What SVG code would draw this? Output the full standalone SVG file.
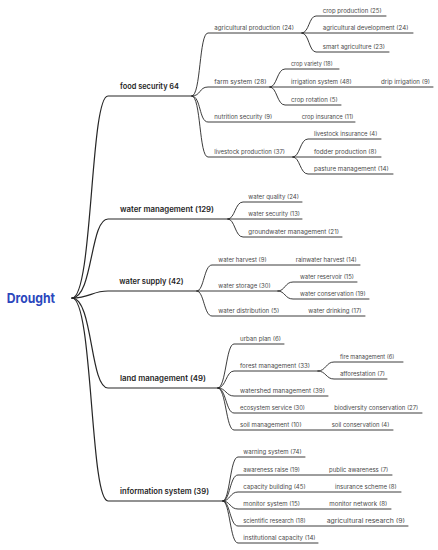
<svg xmlns="http://www.w3.org/2000/svg" width="438" height="550" viewBox="0 0 438 550">
<style>
.c{fill:none;stroke:#262626;stroke-width:0.9;stroke-linecap:round}
.r{stroke-width:1.2}
.t{font-family:Inter,"Open Sans","Liberation Sans",sans-serif;font-size:5.6px;fill:#4a4a4a}
.l1{font-family:Inter,"Open Sans","Liberation Sans",sans-serif;font-size:7.6px;font-weight:600;fill:#1e1e1e}
.root{font-family:Inter,"Open Sans","Liberation Sans",sans-serif;font-size:13.5px;font-weight:700;fill:#2b47bd}
</style>
<rect width="438" height="550" fill="#ffffff"/>
<g id="connectors">
<path class="c r" d="M72,298 C93,298 90,96 108,96 H192"/>
<path class="c r" d="M72,298 C93,298 90,219 108,219 H228"/>
<path class="c r" d="M72,298 C90,298 92,291 108,291 H197"/>
<path class="c r" d="M72,298 C93,298 90,388 108,388 H218"/>
<path class="c r" d="M72,298 C93,298 90,501 108,501 H223"/>
<path class="c" d="M192,96 C201,96 199,33 208,33 H302"/>
<path class="c" d="M192,96 C201,96 199,87 208,87 H270"/>
<path class="c" d="M192,96 C201,96 199,122 208,122 H355"/>
<path class="c" d="M192,96 C201,96 199,157 208,157 H293"/>
<path class="c" d="M302,33 C309,33 309,16 316,16 H386"/>
<path class="c" d="M302,33 H413"/>
<path class="c" d="M302,33 C309,33 309,52 316,52 H389"/>
<path class="c" d="M270,87 C277,87 277,69 285,69 H339"/>
<path class="c" d="M270,87 H433"/>
<path class="c" d="M270,87 C277,87 277,105 285,105 H341"/>
<path class="c" d="M293,157 C300,157 300,139 308,139 H381"/>
<path class="c" d="M293,157 H381"/>
<path class="c" d="M293,157 C300,157 300,174 308,174 H393"/>
<path class="c" d="M228,219 C235,219 235,202 243,202 H302"/>
<path class="c" d="M228,219 H302"/>
<path class="c" d="M228,219 C235,219 235,237 243,237 H342"/>
<path class="c" d="M197,291 C204,291 204,265 212,265 H360"/>
<path class="c" d="M197,291 H278"/>
<path class="c" d="M197,291 C204,291 204,316 212,316 H365"/>
<path class="c" d="M278,291 C285,291 285,282 293,282 H357"/>
<path class="c" d="M278,291 C285,291 285,299 293,299 H369"/>
<path class="c" d="M218,388 C226,388 226,344 234,344 H284"/>
<path class="c" d="M218,388 C226,388 226,371 234,371 H318"/>
<path class="c" d="M218,388 C226,388 226,396 234,396 H328"/>
<path class="c" d="M218,388 C226,388 226,413 234,413 H422"/>
<path class="c" d="M218,388 C226,388 226,430 234,430 H393"/>
<path class="c" d="M318,371 C326,371 326,362 334,362 H403"/>
<path class="c" d="M318,371 C326,371 326,379 334,379 H387"/>
<path class="c" d="M223,501 C230,501 230,457 238,457 H305"/>
<path class="c" d="M223,501 C230,501 230,475 238,475 H392"/>
<path class="c" d="M223,501 C230,501 230,492 238,492 H401"/>
<path class="c" d="M223,501 C230,501 230,509 238,509 H391"/>
<path class="c" d="M223,501 C230,501 230,526 238,526 H408"/>
<path class="c" d="M223,501 C230,501 230,543 238,543 H318"/>
</g>
<g id="drought"><text class="root" x="6.7" y="302.5" textLength="48.3" lengthAdjust="spacingAndGlyphs">Drought</text></g>
<g id="food-security"><text class="l1" x="120" y="88.5" textLength="59" lengthAdjust="spacingAndGlyphs">food security 64</text></g>
<g id="agricultural-production"><text class="t" x="214.3" y="29.5" textLength="79.7" lengthAdjust="spacingAndGlyphs">agricultural production (24)</text></g>
<g id="crop-production"><text class="t" x="322.7" y="12.5" textLength="59" lengthAdjust="spacingAndGlyphs">crop production (25)</text></g>
<g id="agricultural-development"><text class="t" x="322.7" y="29.5" textLength="85.7" lengthAdjust="spacingAndGlyphs">agricultural development (24)</text></g>
<g id="smart-agriculture"><text class="t" x="322.7" y="48.5" textLength="62.3" lengthAdjust="spacingAndGlyphs">smart agriculture (23)</text></g>
<g id="farm-system"><text class="t" x="214.3" y="83.5" textLength="52.3" lengthAdjust="spacingAndGlyphs">farm system (28)</text></g>
<g id="crop-variety"><text class="t" x="291" y="65.5" textLength="41.7" lengthAdjust="spacingAndGlyphs">crop variety (18)</text></g>
<g id="irrigation-system"><text class="t" x="291" y="83.5" textLength="60.7" lengthAdjust="spacingAndGlyphs">irrigation system (48)</text></g>
<g id="drip-irrigation"><text class="t" x="381" y="83.5" textLength="49" lengthAdjust="spacingAndGlyphs">drip irrigation (9)</text></g>
<g id="crop-rotation"><text class="t" x="291" y="101.5" textLength="46.7" lengthAdjust="spacingAndGlyphs">crop rotation (5)</text></g>
<g id="nutrition-security"><text class="t" x="214.3" y="118.5" textLength="58" lengthAdjust="spacingAndGlyphs">nutrition security (9)</text></g>
<g id="crop-insurance"><text class="t" x="301.7" y="118.5" textLength="51.7" lengthAdjust="spacingAndGlyphs">crop insurance (11)</text></g>
<g id="livestock-production"><text class="t" x="214.3" y="153.5" textLength="70.7" lengthAdjust="spacingAndGlyphs">livestock production (37)</text></g>
<g id="livestock-insurance"><text class="t" x="314" y="135.5" textLength="63.3" lengthAdjust="spacingAndGlyphs">livestock insurance (4)</text></g>
<g id="fodder-production"><text class="t" x="314" y="153.5" textLength="62.7" lengthAdjust="spacingAndGlyphs">fodder production (8)</text></g>
<g id="pasture-management"><text class="t" x="314" y="170.5" textLength="74.7" lengthAdjust="spacingAndGlyphs">pasture management (14)</text></g>
<g id="water-management"><text class="l1" x="120" y="211.5" textLength="94" lengthAdjust="spacingAndGlyphs">water management (129)</text></g>
<g id="water-quality"><text class="t" x="248.3" y="198.5" textLength="50.7" lengthAdjust="spacingAndGlyphs">water quality (24)</text></g>
<g id="water-security"><text class="t" x="248.3" y="215.5" textLength="51.7" lengthAdjust="spacingAndGlyphs">water security (13)</text></g>
<g id="groundwater-management"><text class="t" x="248.3" y="233.5" textLength="90.7" lengthAdjust="spacingAndGlyphs">groundwater management (21)</text></g>
<g id="water-supply"><text class="l1" x="119.3" y="283.5" textLength="64.3" lengthAdjust="spacingAndGlyphs">water supply (42)</text></g>
<g id="water-harvest"><text class="t" x="218.3" y="261.5" textLength="48.3" lengthAdjust="spacingAndGlyphs">water harvest (9)</text></g>
<g id="rainwater-harvest"><text class="t" x="295.7" y="261.5" textLength="61" lengthAdjust="spacingAndGlyphs">rainwater harvest (14)</text></g>
<g id="water-storage"><text class="t" x="218.3" y="287.5" textLength="52.3" lengthAdjust="spacingAndGlyphs">water storage (30)</text></g>
<g id="water-reservoir"><text class="t" x="300" y="278.5" textLength="54" lengthAdjust="spacingAndGlyphs">water reservoir (15)</text></g>
<g id="water-conservation"><text class="t" x="300" y="295.5" textLength="65.7" lengthAdjust="spacingAndGlyphs">water conservation (19)</text></g>
<g id="water-distribution"><text class="t" x="218.3" y="312.5" textLength="61" lengthAdjust="spacingAndGlyphs">water distribution (5)</text></g>
<g id="water-drinking"><text class="t" x="308.3" y="312.5" textLength="53.3" lengthAdjust="spacingAndGlyphs">water drinking (17)</text></g>
<g id="land-management"><text class="l1" x="120" y="380.5" textLength="86" lengthAdjust="spacingAndGlyphs">land management (49)</text></g>
<g id="urban-plan"><text class="t" x="240" y="340.5" textLength="41" lengthAdjust="spacingAndGlyphs">urban plan (6)</text></g>
<g id="forest-management"><text class="t" x="240" y="367.5" textLength="70" lengthAdjust="spacingAndGlyphs">forest management (33)</text></g>
<g id="fire-management"><text class="t" x="340" y="358.5" textLength="54.3" lengthAdjust="spacingAndGlyphs">fire management (6)</text></g>
<g id="afforestation"><text class="t" x="340" y="375.5" textLength="45" lengthAdjust="spacingAndGlyphs">afforestation (7)</text></g>
<g id="watershed-management"><text class="t" x="240" y="392.5" textLength="85" lengthAdjust="spacingAndGlyphs">watershed management (39)</text></g>
<g id="ecosystem-service"><text class="t" x="240" y="409.5" textLength="65" lengthAdjust="spacingAndGlyphs">ecosystem service (30)</text></g>
<g id="biodiversity-conservation"><text class="t" x="334.3" y="409.5" textLength="84" lengthAdjust="spacingAndGlyphs">biodiversity conservation (27)</text></g>
<g id="soil-management"><text class="t" x="240" y="426.5" textLength="61.7" lengthAdjust="spacingAndGlyphs">soil management (10)</text></g>
<g id="soil-conservation"><text class="t" x="331.7" y="426.5" textLength="57.7" lengthAdjust="spacingAndGlyphs">soil conservation (4)</text></g>
<g id="information-system"><text class="l1" x="120" y="493.5" textLength="89" lengthAdjust="spacingAndGlyphs">information system (39)</text></g>
<g id="warning-system"><text class="t" x="243.3" y="453.5" textLength="58.3" lengthAdjust="spacingAndGlyphs">warning system (74)</text></g>
<g id="awareness-raise"><text class="t" x="243.3" y="471.5" textLength="56.7" lengthAdjust="spacingAndGlyphs">awareness raise (19)</text></g>
<g id="public-awareness"><text class="t" x="329" y="471.5" textLength="59.3" lengthAdjust="spacingAndGlyphs">public awareness (7)</text></g>
<g id="capacity-building"><text class="t" x="243.3" y="488.5" textLength="62.3" lengthAdjust="spacingAndGlyphs">capacity building (45)</text></g>
<g id="insurance-scheme"><text class="t" x="335" y="488.5" textLength="61.7" lengthAdjust="spacingAndGlyphs">insurance scheme (8)</text></g>
<g id="monitor-system"><text class="t" x="243.3" y="505.5" textLength="56.7" lengthAdjust="spacingAndGlyphs">monitor system (15)</text></g>
<g id="monitor-network"><text class="t" x="329.3" y="505.5" textLength="58" lengthAdjust="spacingAndGlyphs">monitor network (8)</text></g>
<g id="scientific-research"><text class="t" x="243.3" y="522.5" textLength="62.3" lengthAdjust="spacingAndGlyphs">scientific research (18)</text></g>
<g id="agricultural-research"><text class="t" x="326.7" y="522.5" textLength="78.3" lengthAdjust="spacingAndGlyphs">agricultural research (9)</text></g>
<g id="institutional-capacity"><text class="t" x="243.3" y="539.5" textLength="72.3" lengthAdjust="spacingAndGlyphs">institutional capacity (14)</text></g>
</svg>
